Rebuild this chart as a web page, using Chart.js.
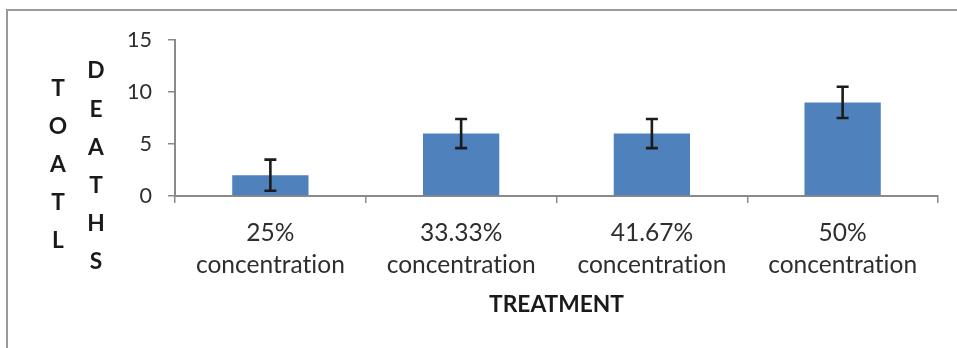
<!DOCTYPE html>
<html>
<head>
<meta charset="utf-8">
<script src="https://cdn.jsdelivr.net/npm/chart.js@4/dist/chart.umd.min.js"></script>
<style>
html,body{margin:0;padding:0;background:#fff;overflow:hidden;}
#wrap{position:relative;width:957px;height:348px;}
#frame{position:absolute;left:6px;top:9px;width:1100px;height:500px;border:2px solid #9a9a9a;box-sizing:border-box;}
canvas{position:absolute;left:0;top:0;font-variant-ligatures:none;}
</style>
</head>
<body>
<div id="wrap">
<div id="frame"></div>
<canvas id="c" width="957" height="348"></canvas>
</div>
<script>
const categories = [["25%", "concentration"], ["33.33%", "concentration"], ["41.67%", "concentration"], ["50%", "concentration"]];
const totalDeaths = [2, 6, 6, 9];
const errorAmounts = [1.5, 1.4, 1.4, 1.5];
const yTickValues = [0, 5, 10, 15];
const yTitleCol1 = ["T", "O", "A", "T", "L"];
const yTitleCol2 = ["D", "E", "A", "T", "H", "S"];
const xTitle = "TREATMENT";

const FAMILY = "Lato, 'Open Sans', sans-serif";
const mctx = document.createElement('canvas').getContext('2d');
try { mctx.textRendering = 'optimizeSpeed'; } catch (e) {}
function fit(text, target, weight) {
  mctx.font = (weight || 'normal') + ' 20px ' + FAMILY;
  return 20 * target / mctx.measureText(text).width;
}
const xFs = fit("concentration", 149);
const yFs = fit("10", 25);
const tFs = fit("TREATMENT", 135, 'bold');

const noLigatures = {
  id: 'noLigatures',
  beforeInit(chart) { try { chart.ctx.textRendering = 'optimizeSpeed'; } catch (e) {} },
  beforeDraw(chart) { try { chart.ctx.textRendering = 'optimizeSpeed'; } catch (e) {} }
};

const errorBars = {
  id: 'errorBars',
  afterDatasetsDraw(chart) {
    const ctx = chart.ctx;
    const meta = chart.getDatasetMeta(0);
    const ys = chart.scales.y;
    ctx.save();
    ctx.strokeStyle = '#1c1c1c';
    ctx.lineWidth = 2.6;
    meta.data.forEach((bar, i) => {
      const v = totalDeaths[i], e = errorAmounts[i];
      const yTop = ys.getPixelForValue(v + e);
      const yBot = ys.getPixelForValue(v - e);
      const x = bar.x, cap = 6;
      ctx.beginPath();
      ctx.moveTo(x, yTop); ctx.lineTo(x, yBot);
      ctx.moveTo(x - cap, yTop); ctx.lineTo(x + cap, yTop);
      ctx.moveTo(x - cap, yBot); ctx.lineTo(x + cap, yBot);
      ctx.stroke();
    });
    ctx.restore();
  }
};

const yTitle = {
  id: 'yTitle',
  afterDraw(chart) {
    const ctx = chart.ctx;
    ctx.save();
    ctx.fillStyle = '#1a1a1a';
    ctx.font = 'bold ' + tFs.toFixed(2) + 'px ' + FAMILY;
    ctx.textAlign = 'center';
    ctx.textBaseline = 'middle';
    yTitleCol1.forEach((ch, i) => ctx.fillText(ch, 58, 89 + i * 38));
    yTitleCol2.forEach((ch, i) => ctx.fillText(ch, 96, 71 + i * 38.2));
    ctx.restore();
  }
};

new Chart(document.getElementById('c'), {
  type: 'bar',
  data: {
    labels: categories,
    datasets: [{
      data: totalDeaths,
      backgroundColor: '#4F81BD',
      borderWidth: 0,
      categoryPercentage: 1,
      barPercentage: 0.4
    }]
  },
  options: {
    responsive: false,
    animation: false,
    events: [],
    layout: { padding: { left: 0, right: 19, top: 40, bottom: 0 } },
    plugins: { legend: { display: false }, tooltip: { enabled: false } },
    scales: {
      x: {
        afterFit(s) { s.height = 152; },
        grid: { display: true, drawOnChartArea: false, offset: true, tickLength: 7, color: '#8a8a8a', lineWidth: 1.5 },
        border: { color: '#8a8a8a', width: 2 },
        ticks: { color: '#2e2e2e', padding: 14, font: { family: FAMILY, size: xFs, lineHeight: 32 / xFs }, maxRotation: 0, autoSkip: false },
        title: { display: true, text: xTitle, color: '#1a1a1a', font: { family: FAMILY, size: tFs, weight: 'bold' }, padding: { top: 0, bottom: 30 } }
      },
      y: {
        min: 0, max: 15,
        afterFit(s) { s.width = 175; },
        afterBuildTicks(s) { s.ticks = yTickValues.map(v => ({ value: v })); },
        grid: { display: true, drawOnChartArea: false, tickLength: 7, color: '#8a8a8a', lineWidth: 1.5 },
        border: { color: '#8a8a8a', width: 2 },
        ticks: { color: '#2e2e2e', padding: 16, font: { family: FAMILY, size: yFs } }
      }
    }
  },
  plugins: [noLigatures, errorBars, yTitle]
});
</script>
</body>
</html>
